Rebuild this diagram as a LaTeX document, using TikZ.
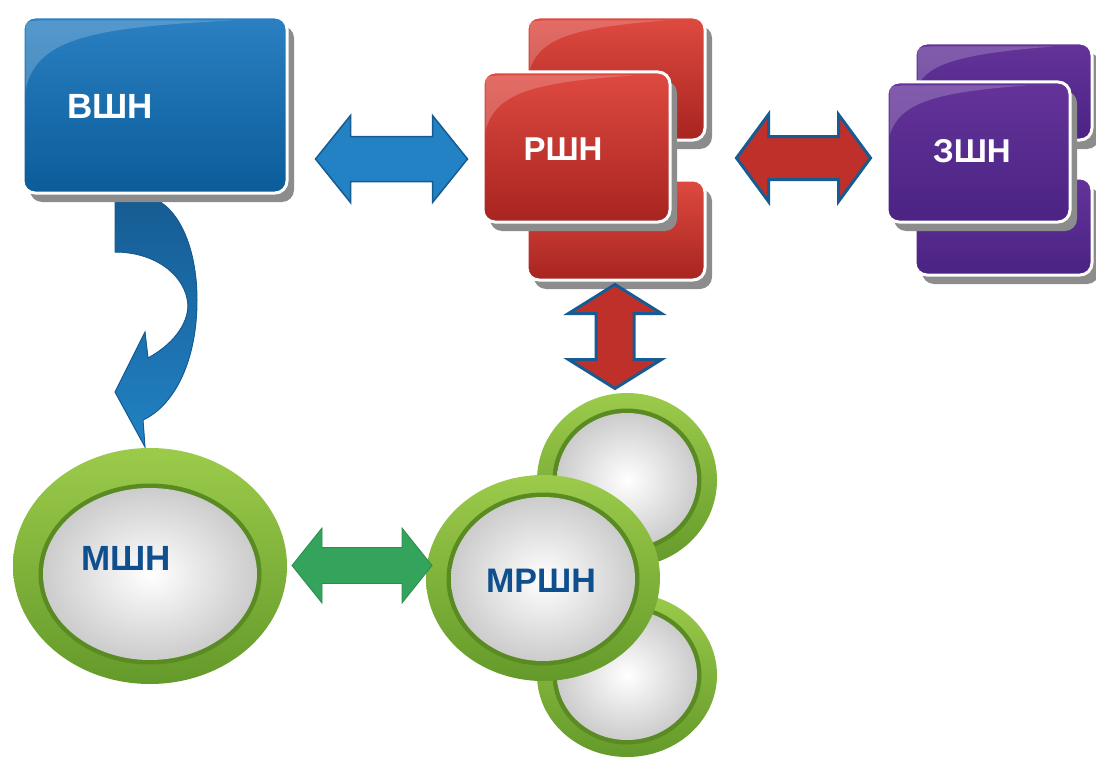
\documentclass[tikz,border=0pt]{standalone}
\usepackage{fontspec}
\setmainfont{Liberation Sans}
\usetikzlibrary{shapes.geometric,shadows,calc}

\definecolor{bluetop}{HTML}{2A80C2}
\definecolor{bluebot}{HTML}{0B5C99}
\definecolor{redtop}{HTML}{DE4A40}
\definecolor{redbot}{HTML}{A82420}
\definecolor{purtop}{HTML}{643399}
\definecolor{purbot}{HTML}{4A2384}
\definecolor{arrblue}{HTML}{2282C4}
\definecolor{arrbluedk}{HTML}{165C93}
\definecolor{arrred}{HTML}{C0302B}
\definecolor{arrgreen}{HTML}{34A35B}
\definecolor{grtop}{HTML}{9CCB4B}
\definecolor{grbot}{HTML}{649A2A}
\definecolor{grdark}{HTML}{5A8A22}
\definecolor{labblue}{HTML}{0F4F8E}

\tikzset{
  card/.style={rectangle, rounded corners=12pt, draw=white, line width=3pt, inner sep=0pt,
    drop shadow={shadow xshift=7pt, shadow yshift=-9pt, fill=black!45, opacity=1}},
  bluecard/.style={card, top color=bluetop, bottom color=bluebot},
  redcard/.style={card, top color=redtop, bottom color=redbot},
  purcard/.style={card, top color=purtop, bottom color=purbot},
  lab/.style={font=\bfseries\fontsize{33}{40}\selectfont, text=white, inner sep=0pt},
  ringlab/.style={lab, text=labblue, font=\bfseries\fontsize{35}{40}\selectfont},
  ringout/.style={ellipse, inner sep=0pt, top color=grtop, bottom color=grbot},
  ringin/.style={ellipse, inner sep=0pt, fill=grdark},
  sphere/.style={ellipse, inner sep=0pt, inner color=white, outer color=black!20},
  bluearrow/.style={fill=arrblue, draw=arrbluedk, line width=1.5pt, line join=miter},
  redarrow/.style={fill=arrred, draw=arrbluedk, line width=3pt, line join=miter},
  greenarrow/.style={fill=arrgreen, draw=arrgreen!85!black, line width=0.8pt},
  curvearrow/.style={top color=arrbluedk, bottom color=arrblue, draw=arrbluedk, line width=1pt}
}

% double block arrow: style, centre, angle, half length, shaft half, head half, head length
\newcommand{\dblarrow}[7]{%
  \begin{scope}[shift={#2}, rotate=#3]
    \filldraw[#1] (-#4,0) -- (-#4+#7,-#6) -- (-#4+#7,-#5) -- (#4-#7,-#5) -- (#4-#7,-#6) -- (#4,0)
      -- (#4-#7,#6) -- (#4-#7,#5) -- (-#4+#7,#5) -- (-#4+#7,#6) -- cycle;
  \end{scope}}

% glossy sheen in the top left corner of a card
\newcommand{\gloss}[3]{%
  \fill[white, opacity=0.2] ($(#1.north west)+(4,16)$) .. controls ($(#1.north west)+(4,6)$) .. ($(#1.north west)+(16,5)$)
    -- ($(#1.north west)+(#2,5)$) .. controls ($(#1.north west)+(0.35*#2,12)$) and ($(#1.north west)+(14,22)$) .. ($(#1.north west)+(4,#3)$) -- cycle;}

% ring: name, centre, outer w, outer h, inner w, inner h, inner shift
\newcommand{\ring}[7]{%
  \node[ringout, minimum width=#3, minimum height=#4] (#1) at #2 {};
  \node[ringin, minimum width=#5+9, minimum height=#6+9] (#1-band) at ($(#1)+(0,#7)$) {};
  \node[sphere, minimum width=#5, minimum height=#6] (#1-in) at ($(#1)+(0,#7)$) {};}

\begin{document}
\begin{tikzpicture}[x=1pt, y=-1pt]
  \useasboundingbox (0,0) rectangle (1096,760);

  % curved arrow from VShN down to MShN
  \filldraw[curvearrow] (115,200) -- (157,200) .. controls (183,214) and (197,255) .. (197,300)
    .. controls (197,360) and (175,405) .. (143,420) -- (145,447) -- (115,392) -- (145,332) -- (148,358)
    .. controls (172,345) and (188,325) .. (188,305) .. controls (186,275) and (155,252) .. (115,252) -- cycle;

  % VShN
  \node[bluecard, minimum width=264, minimum height=176] (vshn) at (155,105) {};
  \gloss{vshn}{210}{75}
  \node[lab, font=\bfseries\fontsize{35}{40}\selectfont] (vshn-l) at (110,106) {ВШН};

  % RShN stack
  \node[redcard, minimum width=178, minimum height=123] (rshn-a) at (616,78.5) {};
  \gloss{rshn-a}{140}{55}
  \node[redcard, minimum width=178, minimum height=100] (rshn-b) at (616,230) {};
  \node[redcard, minimum width=187, minimum height=150] (rshn) at (576.5,147) {};
  \gloss{rshn}{150}{60}
  \node[lab] (rshn-l) at (563,149) {РШН};

  % ZShN stack
  \node[purcard, minimum width=177, minimum height=97] (zshn-a) at (1003.5,91.5) {};
  \gloss{zshn-a}{140}{45}
  \node[purcard, minimum width=177, minimum height=97] (zshn-b) at (1003.5,226.5) {};
  \node[purcard, minimum width=183, minimum height=140] (zshn) at (978.5,152) {};
  \gloss{zshn}{140}{55}
  \node[lab] (zshn-l) at (972,151) {ЗШН};

  % arrows between the cards
  \dblarrow{bluearrow}{(391.5,159)}{0}{76}{22.5}{43.5}{35}
  \dblarrow{redarrow}{(803.5,158)}{0}{67}{21.5}{43.5}{32}
  \dblarrow{redarrow}{(615,336.5)}{90}{52}{19}{46.5}{29}

  % rings
  \ring{mshn}{(150,566)}{274}{236}{214}{172}{8}
  \node[ringlab] (mshn-l) at (126,558) {МШН};

  \ring{mrshn-a}{(627,480)}{180}{174}{140}{134}{0}
  \ring{mrshn-b}{(627,675)}{180}{164}{140}{130}{0}
  \ring{mrshn}{(543,578)}{234}{206}{184}{164}{1}
  \node[ringlab, font=\bfseries\fontsize{34}{40}\selectfont] (mrshn-l) at (541,581) {МРШН};

  \dblarrow{greenarrow}{(362,565.5)}{0}{70}{18}{37.5}{30}
\end{tikzpicture}
\end{document}
